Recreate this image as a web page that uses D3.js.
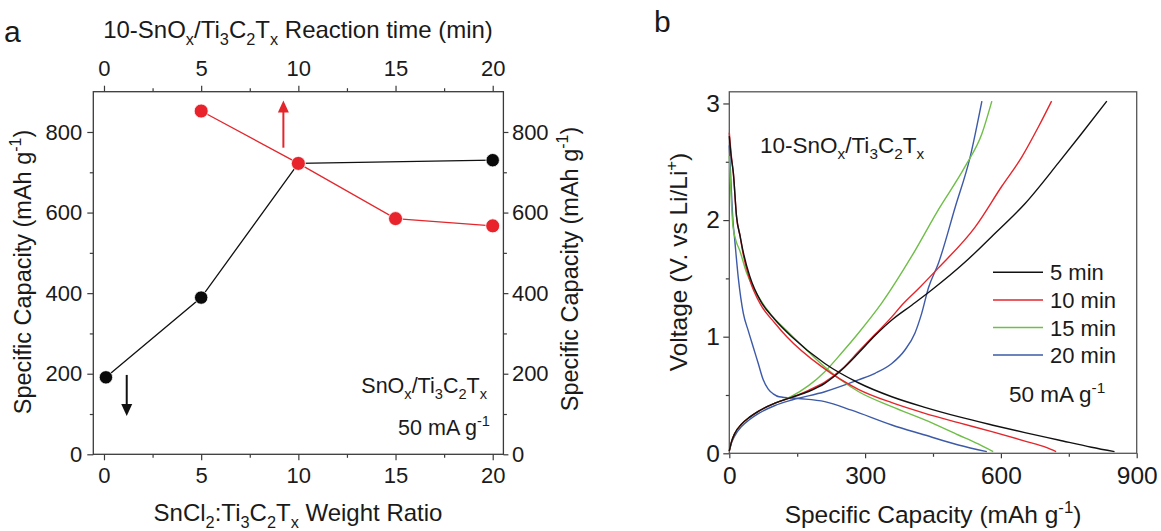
<!DOCTYPE html>
<html>
<head>
<meta charset="utf-8">
<script src="https://cdn.jsdelivr.net/npm/d3@7"></script>
<style>
  body { margin: 0; background: #fff; }
  svg text { font-family: "Liberation Sans", Arial, sans-serif; fill: #1a1a1a; }
</style>
</head>
<body>
<div id="chart"></div>
<script>
// ---- data panel a ----
const ratioX = [0.1, 5, 10, 20];          // SnCl2:Ti3C2Tx weight ratio
const ratioCap = [191, 389, 722, 730];    // capacity (left axis)
const timeX = [5, 10, 15, 20];            // reaction time (min)
const timeCap = [852, 722, 585, 567];     // capacity (right axis)
const majorA = [0, 5, 10, 15, 20];
const minorA = [2.5, 7.5, 12.5, 17.5];
const capTicks = [0, 200, 400, 600, 800];
const capMinor = [100, 300, 500, 700];

// ---- data panel b : [capacity, voltage] ----
const seriesNames = ["5 min", "10 min", "15 min", "20 min"];
const seriesColors = ["#111111", "#e3262c", "#6fbe48", "#3d5aa8"];

const dis5 = [[0,2.72],[4,2.55],[9,2.4],[16,2.03],[24,1.86],[30,1.74],[45,1.52],[70,1.30],[100,1.15],[138,1.0],[211,0.77],[285,0.605],[359,0.485],[432,0.394],[506,0.314],[580,0.243],[653,0.177],[727,0.114],[800,0.052],[851,0.014]];
const dis10 = [[0,2.75],[4,2.57],[9,2.4],[16,2.03],[24,1.86],[30,1.72],[45,1.49],[70,1.27],[100,1.12],[127,1.0],[204,0.743],[285,0.549],[359,0.434],[432,0.343],[506,0.263],[580,0.186],[653,0.105],[700,0.05],[722,0.014]];
const dis15 = [[0,2.55],[4,2.2],[8,1.95],[15,1.82],[23,1.74],[38,1.55],[53,1.42],[90,1.2],[127,1.05],[175,0.87],[211,0.74],[285,0.53],[359,0.40],[432,0.286],[506,0.157],[550,0.08],[583,0.014]];
const dis20 = [[0,2.64],[4,2.3],[8,2.0],[12,1.83],[20,1.5],[31,1.2],[42,1.05],[53,0.91],[64,0.77],[75,0.63],[86,0.55],[97,0.51],[110,0.485],[152,0.47],[211,0.443],[270,0.37],[359,0.243],[432,0.157],[506,0.071],[569,0.014]];

const ch5 = [[0,0.02],[5,0.1],[12,0.17],[27,0.25],[45,0.31],[64,0.36],[101,0.43],[138,0.48],[175,0.53],[211,0.60],[248,0.714],[285,0.858],[322,1.01],[359,1.143],[403,1.27],[447,1.40],[521,1.64],[580,1.86],[653,2.14],[727,2.49],[778,2.74],[834,3.02]];
const ch10 = [[0,0.02],[5,0.1],[12,0.17],[27,0.25],[45,0.31],[64,0.36],[101,0.43],[138,0.48],[175,0.54],[211,0.61],[248,0.72],[285,0.87],[322,1.02],[359,1.17],[381,1.27],[420,1.42],[462,1.59],[543,1.94],[602,2.29],[646,2.54],[683,2.80],[712,3.02]];
const ch15 = [[0,0.02],[5,0.1],[12,0.17],[27,0.25],[45,0.31],[64,0.36],[101,0.43],[138,0.49],[175,0.58],[211,0.70],[248,0.86],[285,1.03],[337,1.29],[403,1.69],[462,2.09],[521,2.46],[558,2.74],[580,3.02]];
const ch20 = [[0,0.02],[5,0.09],[12,0.15],[27,0.23],[45,0.29],[64,0.34],[101,0.41],[138,0.457],[211,0.528],[285,0.629],[322,0.686],[359,0.77],[388,0.886],[410,1.03],[425,1.20],[440,1.42],[462,1.63],[499,2.11],[532,2.54],[558,3.02]];

const discharge = [dis5, dis10, dis15, dis20];
const charge = [ch5, ch10, ch15, ch20];
const xTicksB = [0, 300, 600, 900];
const xMinorB = [150, 450, 750];
const yTicksB = [0, 1, 2, 3];
const yMinorB = [0.5, 1.5, 2.5];

const W = 1161, H = 531;
const axisColor = "#3a3a3a";

const svg = d3.select("#chart").append("svg")
    .attr("width", W)
    .attr("height", H);

// tekst met sub/superscript
function richText(g, x, y, parts, fs, anchor, rotate) {
  const t = g.append("text")
      .attr("font-size", fs)
      .attr("text-anchor", anchor || "start");
  if (rotate) t.attr("transform", "translate(" + x + "," + y + ") rotate(" + rotate + ")");
  else t.attr("x", x).attr("y", y);
  let cur = 0;
  parts.forEach(function(p) {
    const off = p[1] === "sub" ? fs * 0.28 : p[1] === "sup" ? -fs * 0.42 : 0;
    t.append("tspan")
        .attr("dy", off - cur)
        .attr("font-size", p[1] ? fs * 0.68 : fs)
        .text(p[0]);
    cur = off;
  });
  return t;
}

function styleAxis(fs) {
  return function(g) {
    g.select(".domain").remove();
    g.selectAll("line").attr("stroke", axisColor).attr("stroke-width", 1.2);
    g.selectAll("text").attr("font-size", fs).attr("fill", "#1a1a1a")
        .attr("font-family", "Liberation Sans, Arial, sans-serif");
  };
}

// ================= panel a =================
const FA = 22;
const xA = d3.scaleLinear().domain([-0.55, 20.55]).range([93.3, 503.4]);
const yA = d3.scaleLinear().domain([0, 900]).range([454.3, 91.7]);
const ga = svg.append("g");

ga.append("g").attr("transform", "translate(0," + yA(0) + ")")
    .call(d3.axisBottom(xA).tickValues(majorA).tickSize(6).tickPadding(7).tickSizeOuter(0))
    .call(styleAxis(FA));
ga.append("g").attr("transform", "translate(0," + yA(0) + ")")
    .call(d3.axisBottom(xA).tickValues(minorA).tickSize(3.5).tickFormat("").tickSizeOuter(0))
    .call(styleAxis(FA));
ga.append("g").attr("transform", "translate(0," + yA(900) + ")")
    .call(d3.axisTop(xA).tickValues(majorA).tickSize(6).tickPadding(9.5).tickSizeOuter(0))
    .call(styleAxis(FA));
ga.append("g").attr("transform", "translate(0," + yA(900) + ")")
    .call(d3.axisTop(xA).tickValues(minorA).tickSize(3.5).tickFormat("").tickSizeOuter(0))
    .call(styleAxis(FA));
ga.append("g").attr("transform", "translate(" + xA(-0.55) + ",0)")
    .call(d3.axisLeft(yA).tickValues(capTicks).tickSize(6).tickPadding(5).tickSizeOuter(0))
    .call(styleAxis(FA));
ga.append("g").attr("transform", "translate(" + xA(-0.55) + ",0)")
    .call(d3.axisLeft(yA).tickValues(capMinor).tickSize(3.5).tickFormat("").tickSizeOuter(0))
    .call(styleAxis(FA));
ga.append("g").attr("transform", "translate(" + xA(20.55) + ",0)")
    .call(d3.axisRight(yA).tickValues(capTicks).tickSize(5).tickPadding(3.5).tickSizeOuter(0))
    .call(styleAxis(FA));
ga.append("g").attr("transform", "translate(" + xA(20.55) + ",0)")
    .call(d3.axisRight(yA).tickValues(capMinor).tickSize(3.5).tickFormat("").tickSizeOuter(0))
    .call(styleAxis(FA));

ga.append("rect")
    .attr("x", xA(-0.55)).attr("y", yA(900))
    .attr("width", xA(20.55) - xA(-0.55)).attr("height", yA(0) - yA(900))
    .attr("fill", "none").attr("stroke", axisColor).attr("stroke-width", 1.3);

const lineA = d3.line().x(function(d) { return xA(d[0]); }).y(function(d) { return yA(d[1]); });
const blackPts = ratioX.map(function(x, i) { return [x, ratioCap[i]]; });
const redPts = timeX.map(function(x, i) { return [x, timeCap[i]]; });

ga.append("path").datum(blackPts).attr("d", lineA)
    .attr("fill", "none").attr("stroke", "#111").attr("stroke-width", 1.3);
ga.selectAll(".dotBlack").data(blackPts).enter().append("circle")
    .attr("class", "dotBlack")
    .attr("cx", function(d) { return xA(d[0]); })
    .attr("cy", function(d) { return yA(d[1]); })
    .attr("r", 6.7).attr("fill", "#0a0a0a").attr("stroke", "#fff").attr("stroke-width", 0.8);

ga.append("path").datum(redPts).attr("d", lineA)
    .attr("fill", "none").attr("stroke", "#e3262c").attr("stroke-width", 1.3);
ga.selectAll(".dotRed").data(redPts).enter().append("circle")
    .attr("class", "dotRed")
    .attr("cx", function(d) { return xA(d[0]); })
    .attr("cy", function(d) { return yA(d[1]); })
    .attr("r", 7).attr("fill", "#e8232b").attr("stroke", "#fff").attr("stroke-width", 0.8);

// pijlen
function arrow(g, x, v0, v1, color) {
  const px = xA(x), y0 = yA(v0), y1 = yA(v1);
  const dir = y1 < y0 ? 1 : -1;
  g.append("line").attr("x1", px).attr("x2", px).attr("y1", y0).attr("y2", y1 + dir * 10)
      .attr("stroke", color).attr("stroke-width", 2);
  g.append("path")
      .attr("d", "M" + px + "," + y1 + "L" + (px - 5.5) + "," + (y1 + dir * 12) + "L" + (px + 5.5) + "," + (y1 + dir * 12) + "Z")
      .attr("fill", color);
}
arrow(ga, 9.23, 761, 878, "#e3262c");
arrow(ga, 1.17, 197, 95, "#111");

// teksten panel a
ga.append("text").attr("x", 4).attr("y", 42).attr("font-size", 30).text("a");
richText(ga, 298, 38, [["10-SnO"], ["x", "sub"], ["/Ti"], ["3", "sub"], ["C"], ["2", "sub"], ["T"], ["x", "sub"], [" Reaction time (min)"]], 24, "middle");
richText(ga, 298, 521, [["SnCl"], ["2", "sub"], [":Ti"], ["3", "sub"], ["C"], ["2", "sub"], ["T"], ["x", "sub"], [" Weight Ratio"]], 24, "middle");
richText(ga, 31, 272, [["Specific Capacity (mAh g"], ["-1", "sup"], [")"]], 23.5, "middle", -90);
richText(ga, 578, 269, [["Specific Capacity (mAh g"], ["-1", "sup"], [")"]], 23.5, "middle", -90);
richText(ga, 487, 393, [["SnO"], ["x", "sub"], ["/Ti"], ["3", "sub"], ["C"], ["2", "sub"], ["T"], ["x", "sub"]], 21.5, "end");
richText(ga, 490, 435, [["50 mA g"], ["-1", "sup"]], 21.5, "end");

// ================= panel b =================
const FB = 24.5;
const xB = d3.scaleLinear().domain([0, 900]).range([729.3, 1136.7]);
const yB = d3.scaleLinear().domain([0, 3.1]).range([453.3, 91.8]);
const gb = svg.append("g");

gb.append("g").attr("transform", "translate(0," + yB(0) + ")")
    .call(d3.axisBottom(xB).tickValues(xTicksB).tickSize(5).tickPadding(8.5).tickSizeOuter(0))
    .call(styleAxis(FB));
gb.append("g").attr("transform", "translate(0," + yB(0) + ")")
    .call(d3.axisBottom(xB).tickValues(xMinorB).tickSize(3.5).tickFormat("").tickSizeOuter(0))
    .call(styleAxis(FB));
gb.append("g").attr("transform", "translate(" + xB(0) + ",0)")
    .call(d3.axisLeft(yB).tickValues(yTicksB).tickFormat(d3.format("d")).tickSize(6).tickPadding(3.5).tickSizeOuter(0))
    .call(styleAxis(FB));
gb.append("g").attr("transform", "translate(" + xB(0) + ",0)")
    .call(d3.axisLeft(yB).tickValues(yMinorB).tickSize(3.5).tickFormat("").tickSizeOuter(0))
    .call(styleAxis(FB));

gb.append("rect")
    .attr("x", xB(0)).attr("y", yB(3.1))
    .attr("width", xB(900) - xB(0)).attr("height", yB(0) - yB(3.1))
    .attr("fill", "none").attr("stroke", "#555").attr("stroke-width", 1.3);

const lineB = d3.line()
    .x(function(d) { return xB(d[0]); })
    .y(function(d) { return yB(d[1]); })
    .curve(d3.curveMonotoneX);

// teken eerst de 20 min curve zodat zwart bovenop ligt
[3, 2, 1, 0].forEach(function(i) {
  gb.append("path").datum(discharge[i]).attr("d", lineB)
      .attr("fill", "none").attr("stroke", seriesColors[i]).attr("stroke-width", 1.4);
  gb.append("path").datum(charge[i]).attr("d", lineB)
      .attr("fill", "none").attr("stroke", seriesColors[i]).attr("stroke-width", 1.4);
});

// legenda
const legX = 993, legY = 272.3, legStep = 27.6;
seriesNames.forEach(function(name, i) {
  const y = legY + i * legStep;
  gb.append("line").attr("x1", legX).attr("x2", legX + 50).attr("y1", y).attr("y2", y)
      .attr("stroke", seriesColors[i]).attr("stroke-width", 1.5);
  gb.append("text").attr("x", legX + 57).attr("y", y + 8).attr("font-size", 22).text(name);
});

gb.append("text").attr("x", 654).attr("y", 32).attr("font-size", 30).text("b");
richText(gb, 760, 153, [["10-SnO"], ["x", "sub"], ["/Ti"], ["3", "sub"], ["C"], ["2", "sub"], ["T"], ["x", "sub"]], 22.5, "start");
richText(gb, 1009, 402, [["50 mA g"], ["-1", "sup"]], 22.5, "start");
richText(gb, 933, 523, [["Specific Capacity (mAh g"], ["-1", "sup"], [")"]], FB, "middle");
richText(gb, 687, 262, [["Voltage (V. vs Li/Li"], ["+", "sup"], [")"]], FB, "middle", -90);
</script>
</body>
</html>
